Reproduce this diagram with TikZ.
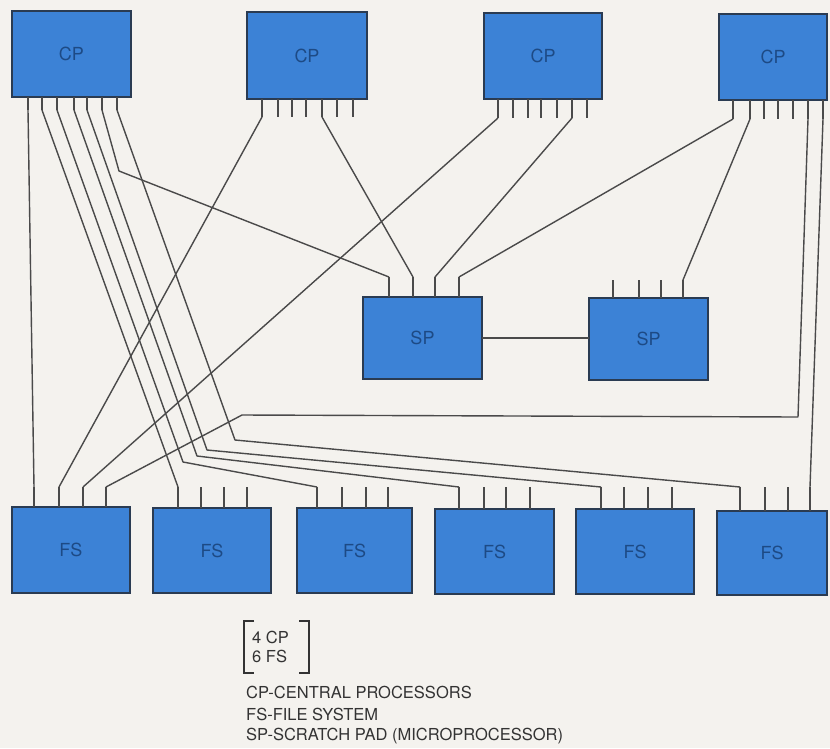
\documentclass[tikz,border=0pt]{standalone}
\usepackage{fontspec}
\setmainfont{TeX Gyre Heros}
\definecolor{bgc}{HTML}{F4F2EE}
\definecolor{boxblue}{HTML}{3C82D6}
\definecolor{boxline}{HTML}{2A3B52}
\definecolor{labelblue}{HTML}{1D4A85}
\definecolor{wirec}{HTML}{4A4A4A}
\definecolor{legc}{HTML}{333333}
\begin{document}
\begin{tikzpicture}[x=1pt,y=-1pt,
  blk/.style={draw=boxline, fill=boxblue, line width=1.8pt, inner sep=0pt, outer sep=0pt,
    anchor=north west, text=labelblue, font=\fontsize{18}{20}\selectfont},
  wire/.style={draw=wirec, line width=1.4pt, line join=round},
  legtext/.style={anchor=west, inner sep=0pt, text=legc, font=\fontsize{16.5}{18}\selectfont},
  brk/.style={draw=legc, line width=2.4pt}]
\fill[bgc] (0,0) rectangle (830,748);
\useasboundingbox (0,0) rectangle (830,748);

% boxes
\node[blk, minimum width=119pt, minimum height=86pt] (cp1) at (12,11) {CP};
\node[blk, minimum width=120pt, minimum height=87pt] (cp2) at (247,12) {CP};
\node[blk, minimum width=118pt, minimum height=86pt] (cp3) at (484,13) {CP};
\node[blk, minimum width=108pt, minimum height=86pt] (cp4) at (719,14) {CP};
\node[blk, minimum width=119pt, minimum height=82pt] (sp1) at (363,297) {SP};
\node[blk, minimum width=119pt, minimum height=82pt] (sp2) at (589,298) {SP};
\node[blk, minimum width=118pt, minimum height=86pt] (fs1) at (12,507) {FS};
\node[blk, minimum width=118pt, minimum height=85pt] (fs2) at (153,508) {FS};
\node[blk, minimum width=115pt, minimum height=85pt] (fs3) at (297,508) {FS};
\node[blk, minimum width=119pt, minimum height=85pt] (fs4) at (435,509) {FS};
\node[blk, minimum width=118pt, minimum height=85pt] (fs5) at (576,509) {FS};
\node[blk, minimum width=110pt, minimum height=84pt] (fs6) at (717,511) {FS};

% CP pins: b = base on box, e = end of stub
\foreach \x [count=\i] in {28,42,57,74,87,102,117}
  {\coordinate (cp1b\i) at (\x,97); \coordinate (cp1e\i) at (\x,110);}
\foreach \x [count=\i] in {262,278,292,306,322,337,353}
  {\coordinate (cp2b\i) at (\x,99); \coordinate (cp2e\i) at (\x,117);}
\foreach \x [count=\i] in {498,513,528,541,557,572,587}
  {\coordinate (cp3b\i) at (\x,99); \coordinate (cp3e\i) at (\x,118);}
\foreach \x [count=\i] in {733,750,764,778,793,808,823}
  {\coordinate (cp4b\i) at (\x,100); \coordinate (cp4e\i) at (\x,119);}
% SP pins: t = top of stub
\foreach \x [count=\i] in {389,413,435,459}
  {\coordinate (sp1b\i) at (\x,297); \coordinate (sp1t\i) at (\x,277);}
\foreach \x [count=\i] in {613,639,661,683}
  {\coordinate (sp2b\i) at (\x,298); \coordinate (sp2t\i) at (\x,280);}
% FS pins
\foreach \x [count=\i] in {34,59,83,106}
  {\coordinate (fs1b\i) at (\x,507); \coordinate (fs1t\i) at (\x,487);}
\foreach \x [count=\i] in {178,201,224,247}
  {\coordinate (fs2b\i) at (\x,508); \coordinate (fs2t\i) at (\x,487);}
\foreach \x [count=\i] in {317,342,366,388}
  {\coordinate (fs3b\i) at (\x,508); \coordinate (fs3t\i) at (\x,487);}
\foreach \x [count=\i] in {459,484,506,530}
  {\coordinate (fs4b\i) at (\x,509); \coordinate (fs4t\i) at (\x,487);}
\foreach \x [count=\i] in {601,624,648,672}
  {\coordinate (fs5b\i) at (\x,509); \coordinate (fs5t\i) at (\x,487);}
\foreach \x [count=\i] in {740,765,788,810}
  {\coordinate (fs6b\i) at (\x,511); \coordinate (fs6t\i) at (\x,487);}

% stubs
\foreach \c in {cp1,cp2,cp3,cp4}
  \foreach \i in {1,...,7} \draw[wire] (\c b\i) -- (\c e\i);
\foreach \c in {sp1,sp2,fs1,fs2,fs3,fs4,fs5,fs6}
  \foreach \i in {1,...,4} \draw[wire] (\c b\i) -- (\c t\i);

% bend points
\coordinate (k1) at (119,171);
\coordinate (k3) at (183,462);
\coordinate (k4) at (197,456);
\coordinate (k5) at (207,450);
\coordinate (k6) at (235,440);
\coordinate (k7) at (798,417);
\coordinate (k8) at (242,415);

% connectors
\draw[wire] (cp1e1) -- (fs1t1);
\draw[wire] (cp1e2) -- (fs2t1);
\draw[wire] (cp1e3) -- (k3) -- (fs3t1);
\draw[wire] (cp1e4) -- (k4) -- (fs4t1);
\draw[wire] (cp1e5) -- (k5) -- (fs5t1);
\draw[wire] (cp1e7) -- (k6) -- (fs6t1);
\draw[wire] (cp1e6) -- (k1) -- (sp1t1);
\draw[wire] (cp2e1) -- (fs1t2);
\draw[wire] (cp2e5) -- (sp1t2);
\draw[wire] (cp3e1) -- (fs1t3);
\draw[wire] (cp3e6) -- (sp1t3);
\draw[wire] (cp4e1) -- (sp1t4);
\draw[wire] (cp4e2) -- (sp2t4);
\draw[wire] (cp4e6) -- (k7) -- (k8) -- (fs1t4);
\draw[wire] (cp4e7) -- (fs6t4);
\draw[wire] (sp1.east) -- (sp1.east -| sp2.west);

% legend
\draw[brk] (254,621) -- (244,621) -- (244,673) -- (254,673);
\draw[brk] (299,621) -- (309,621) -- (309,673) -- (299,673);
\node[legtext] (n4cp) at (252,637) {4 CP};
\node[legtext] (n6fs) at (252,656) {6 FS};
\node[legtext] (l1) at (246,692) {CP-CENTRAL PROCESSORS};
\node[legtext] (l2) at (246,714) {FS-FILE SYSTEM};
\node[legtext] (l3) at (246,736) {SP-SCRATCH PAD (MICROPROCESSOR)};
\end{tikzpicture}
\end{document}
